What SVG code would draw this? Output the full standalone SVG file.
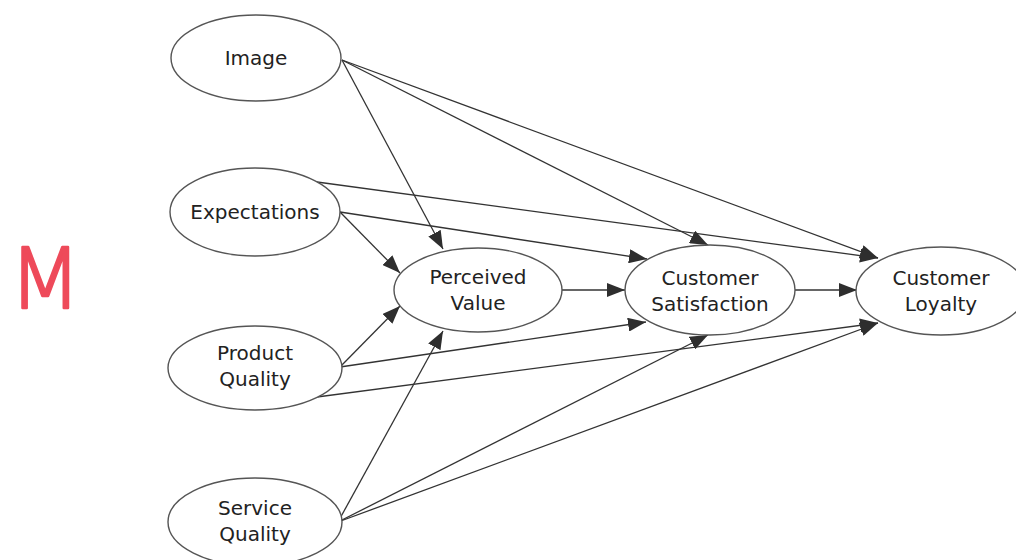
<svg xmlns="http://www.w3.org/2000/svg" width="1016" height="560" viewBox="0 0 1016 560">
<style>
.n ellipse{fill:#fff;stroke:#555;stroke-width:1.4}
.n text{font-family:"DejaVu Sans",Verdana,sans-serif;font-size:20px;fill:#222;text-anchor:middle}
.e line{stroke:#333;stroke-width:1.3;fill:none;marker-end:url(#ah)}
</style>
<defs>
<marker id="ah" markerUnits="userSpaceOnUse" markerWidth="19" markerHeight="14" refX="18" refY="7" orient="auto">
<path d="M0,0 L18,7 L0,14 Z" fill="#2e2e2e"/>
</marker>
</defs>
<rect width="1016" height="560" fill="#fff"/>
<text x="9" y="308" font-family="DejaVu Sans,sans-serif" font-weight="200" font-size="84" fill="#ee4a5a" stroke="#ee4a5a" stroke-width="2.5" stroke-linejoin="round">M</text>
<g class="e" id="connectors">
<line x1="342" y1="60" x2="443" y2="249"/>
<line x1="342" y1="60" x2="708" y2="245"/>
<line x1="342" y1="60" x2="878" y2="258"/>
<line x1="317" y1="182" x2="878" y2="258"/>
<line x1="340" y1="212" x2="647" y2="259"/>
<line x1="340" y1="212" x2="400" y2="273"/>
<line x1="562" y1="290" x2="625" y2="290"/>
<line x1="795" y1="290" x2="857" y2="290"/>
<line x1="340" y1="367" x2="400" y2="306"/>
<line x1="340" y1="367" x2="646" y2="322"/>
<line x1="317" y1="397" x2="878" y2="323"/>
<line x1="338" y1="522" x2="443" y2="331"/>
<line x1="338" y1="522" x2="708" y2="335"/>
<line x1="338" y1="522" x2="878" y2="323"/>
</g>
<g class="n" id="image"><ellipse cx="256" cy="58" rx="85" ry="43"/><text x="256" y="65">Image</text></g>
<g class="n" id="expectations"><ellipse cx="255" cy="212" rx="85" ry="44"/><text x="255" y="219">Expectations</text></g>
<g class="n" id="product-quality"><ellipse cx="255" cy="368" rx="87" ry="42"/><text x="255" y="360">Product</text><text x="255" y="386">Quality</text></g>
<g class="n" id="service-quality"><ellipse cx="255" cy="522" rx="87" ry="44"/><text x="255" y="515">Service</text><text x="255" y="541">Quality</text></g>
<g class="n" id="perceived-value"><ellipse cx="478" cy="290" rx="84" ry="42"/><text x="478" y="284">Perceived</text><text x="478" y="310">Value</text></g>
<g class="n" id="customer-satisfaction"><ellipse cx="710" cy="290" rx="85" ry="45"/><text x="710" y="285">Customer</text><text x="710" y="311">Satisfaction</text></g>
<g class="n" id="customer-loyalty"><ellipse cx="941" cy="291" rx="85" ry="44"/><text x="941" y="285">Customer</text><text x="941" y="311">Loyalty</text></g>
</svg>
